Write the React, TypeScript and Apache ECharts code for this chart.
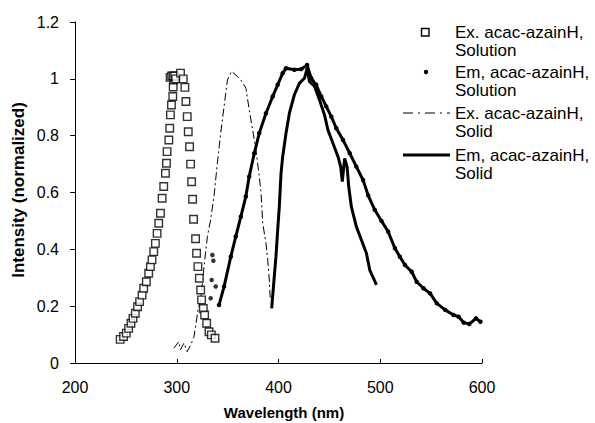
import React, { useEffect, useRef } from "react";
import * as echarts from "echarts";

// ---- data ----
const xTicks = { min: 200, max: 600, interval: 100 };
const yTicks = { min: 0, max: 1.2, interval: 0.2 };

const seriesNames = [
  "Ex. acac-azainH, Solution",
  "Em, acac-azainH, Solution",
  "Ex. acac-azainH, Solid",
  "Em, acac-azainH, Solid",
];

// Excitation, solution (hollow squares)
const exSolution: number[][] = [
  [244.4, 0.083], [247.7, 0.093], [250.4, 0.105], [252.7, 0.122], [255, 0.14],
  [257, 0.157], [259.3, 0.175], [261.5, 0.198], [263.5, 0.216], [265.9, 0.239],
  [267.5, 0.263], [270.1, 0.286], [272.4, 0.316], [274.1, 0.339], [275.7, 0.363],
  [277.4, 0.392], [279, 0.421], [280.7, 0.456], [282.3, 0.492], [284, 0.527],
  [285.6, 0.58], [287.2, 0.621], [288.9, 0.668], [289.9, 0.703], [290.5, 0.744],
  [292.2, 0.785], [293.1, 0.826], [293.8, 0.873], [294.8, 0.908], [296.1, 0.938],
  [296.5, 0.971], [297.1, 0.996], [293.5, 1.005], [295, 1.01], [296.5, 1.01],
  [298, 1.01], [299, 1.0], [303.7, 1.02], [306.4, 1.0], [308, 0.97], [309, 0.92],
  [310.3, 0.867], [311.3, 0.814], [312.6, 0.761], [313.6, 0.7], [314.6, 0.638],
  [315.6, 0.576], [316.5, 0.506], [318.5, 0.437], [319.5, 0.386], [320.8, 0.339],
  [322.2, 0.298], [323.5, 0.257], [324.4, 0.222], [326.1, 0.192], [327.4, 0.169],
  [329.4, 0.14], [331.7, 0.11], [334, 0.099], [337.6, 0.087],
];

// Emission, solution (dots) – scattered onset dots
const emSolutionOnset: number[][] = [
  [335, 0.38], [336, 0.36], [334.3, 0.292], [338.3, 0.269], [333.3, 0.228],
];
// Emission, solution (dots) – dense part
const emSolution: number[][] = [
  [341.5, 0.204], [346.5, 0.269], [353.1, 0.374], [358, 0.445], [363, 0.515],
  [367.9, 0.586], [371.2, 0.656], [376.2, 0.738], [381.1, 0.809], [387.7, 0.879],
  [394.3, 0.938], [399.2, 0.979], [404.1, 1.02], [407.4, 1.037], [415.6, 1.032],
  [422.2, 1.034], [428.1, 1.049], [432.1, 1.002], [437, 0.979], [442, 0.938],
  [446.9, 0.903], [451.9, 0.867], [456.8, 0.826], [463.4, 0.785], [470, 0.738],
  [476.5, 0.691], [483.1, 0.644], [488.1, 0.59], [494.6, 0.539], [501.2, 0.5],
  [507.8, 0.462], [514.4, 0.404], [519.3, 0.374], [524.3, 0.345], [530.9, 0.321],
  [535.8, 0.286], [542.4, 0.263], [549, 0.245], [555.6, 0.21], [563.8, 0.187],
  [572, 0.169], [577, 0.163], [582, 0.142], [587.5, 0.137], [594.1, 0.157],
  [598.4, 0.145],
];

// Excitation, solid (dash-dot line)
const exSolid: number[][] = [
  [297.1, 0.052], [302, 0.075], [303.7, 0.046], [307, 0.07], [310.3, 0.04],
  [313.6, 0.063], [316.8, 0.09], [319, 0.14], [321, 0.19], [323.5, 0.222],
  [326.8, 0.339], [330.1, 0.445], [333.3, 0.504], [336.6, 0.586], [339.9, 0.703],
  [343.2, 0.809], [346.5, 0.903], [349.8, 0.996], [353.8, 1.026], [358, 1.014],
  [363, 0.996], [368, 0.967], [371.2, 0.891], [374.6, 0.82], [377.8, 0.75],
  [381.1, 0.656], [382.8, 0.6], [384.5, 0.492], [387.7, 0.421], [389.4, 0.363],
  [391, 0.292], [391.8, 0.23],
];

// Emission, solid (thick solid line)
const emSolid: number[][] = [
  [393.3, 0.192], [395.3, 0.28], [397.5, 0.374], [399.2, 0.468], [400.8, 0.55],
  [401.8, 0.62], [402.5, 0.668], [404.1, 0.726], [407.4, 0.809], [410.7, 0.879],
  [415.6, 0.944], [420.6, 0.985], [425.5, 1.002], [428.1, 1.037], [430.4, 0.991],
  [435.4, 0.974], [440.3, 0.926], [445.2, 0.873], [448.6, 0.82], [453.5, 0.773],
  [458.5, 0.726], [461.1, 0.691], [462.7, 0.638], [465, 0.72], [467.4, 0.691],
  [469, 0.621], [471.6, 0.55], [476.5, 0.48], [481.5, 0.433], [486.4, 0.386],
  [489.7, 0.327], [496.3, 0.275],
];

const legendLines = [
  ["Ex. acac-azainH,", "Solution"],
  ["Em, acac-azainH,", "Solution"],
  ["Ex. acac-azainH,", "Solid"],
  ["Em, acac-azainH,", "Solid"],
];

const FONT = '"Liberation Sans", Arial, Helvetica, sans-serif';

export default function App() {
  const ref = useRef<HTMLDivElement>(null);
  useEffect(() => {
    document.body.style.margin = "0";
    if (!ref.current) return;
    const chart = echarts.init(ref.current, undefined, { renderer: "svg" });

    const legendY = [32, 72, 113, 155];
    const legendGap = 18;
    const graphics: any[] = [
      {
        type: "rect",
        shape: { x: 421.5, y: legendY[0] - 3.5, width: 7.5, height: 7.5 },
        style: { fill: "#fff", stroke: "#000", lineWidth: 1.4 },
      },
      {
        type: "circle",
        shape: { cx: 426, cy: legendY[1], r: 2.2 },
        style: { fill: "#000" },
      },
      {
        type: "line",
        shape: { x1: 403, y1: legendY[2], x2: 450, y2: legendY[2] },
        style: { stroke: "#000", lineWidth: 1, lineDash: [10, 5, 2, 5] },
      },
      {
        type: "line",
        shape: { x1: 403, y1: legendY[3], x2: 450, y2: legendY[3] },
        style: { stroke: "#000", lineWidth: 3 },
      },
      {
        type: "text",
        x: 284,
        y: 412,
        style: {
          text: "Wavelength (nm)",
          font: `bold 15px ${FONT}`,
          fill: "#000",
          textAlign: "center",
          textVerticalAlign: "middle",
        },
      },
      {
        type: "text",
        x: 18,
        y: 190,
        rotation: Math.PI / 2,
        style: {
          text: "Intensity (normalized)",
          font: `bold 17px ${FONT}`,
          fill: "#000",
          textAlign: "center",
          textVerticalAlign: "middle",
        },
      },
    ];
    legendLines.forEach((lines, i) => {
      lines.forEach((t, j) => {
        graphics.push({
          type: "text",
          x: 455,
          y: legendY[i] + j * legendGap,
          style: {
            text: t,
            font: `17px ${FONT}`,
            fill: "#000",
            textAlign: "left",
            textVerticalAlign: "middle",
          },
        });
      });
    });

    chart.setOption({
      animation: false,
      backgroundColor: "#fff",
      grid: { left: 75, right: 113, top: 22, bottom: 60, outerBoundsMode: "none" },
      xAxis: {
        type: "value",
        min: xTicks.min,
        max: xTicks.max,
        interval: xTicks.interval,
        axisLine: { lineStyle: { color: "#000", width: 1 } },
        axisTick: { show: true, inside: true, length: 4, lineStyle: { color: "#000" } },
        splitLine: { show: false },
        axisLabel: { color: "#000", fontSize: 16, fontFamily: FONT, margin: 16 },
      },
      yAxis: {
        type: "value",
        min: yTicks.min,
        max: yTicks.max,
        interval: yTicks.interval,
        axisLine: { show: true, lineStyle: { color: "#000", width: 1 } },
        axisTick: { show: true, inside: false, length: 5, lineStyle: { color: "#000" } },
        splitLine: { show: false },
        axisLabel: { color: "#000", fontSize: 16, fontFamily: FONT, margin: 16 },
      },
      series: [
        {
          name: seriesNames[2],
          type: "line",
          data: exSolid,
          showSymbol: false,
          lineStyle: { color: "#000", width: 1, type: [8, 3, 2, 3] },
          z: 2,
        },
        {
          name: seriesNames[3],
          type: "line",
          data: emSolid,
          showSymbol: false,
          lineStyle: { color: "#000", width: 3 },
          z: 3,
        },
        {
          name: seriesNames[1],
          type: "line",
          data: emSolution,
          symbol: "circle",
          symbolSize: 4.5,
          showSymbol: true,
          itemStyle: { color: "#000" },
          lineStyle: { color: "#000", width: 3 },
          z: 3,
        },
        {
          name: seriesNames[1] + " onset",
          type: "scatter",
          data: emSolutionOnset,
          symbol: "circle",
          symbolSize: 4.5,
          itemStyle: { color: "#000" },
          z: 3,
        },
        {
          name: seriesNames[0],
          type: "scatter",
          data: exSolution,
          symbol: "rect",
          symbolSize: 7.5,
          itemStyle: { color: "#fff", borderColor: "#000", borderWidth: 1.4 },
          z: 4,
        },
      ],
      graphic: graphics,
    });
    return () => chart.dispose();
  }, []);
  return <div ref={ref} style={{ width: 595, height: 423 }} />;
}
